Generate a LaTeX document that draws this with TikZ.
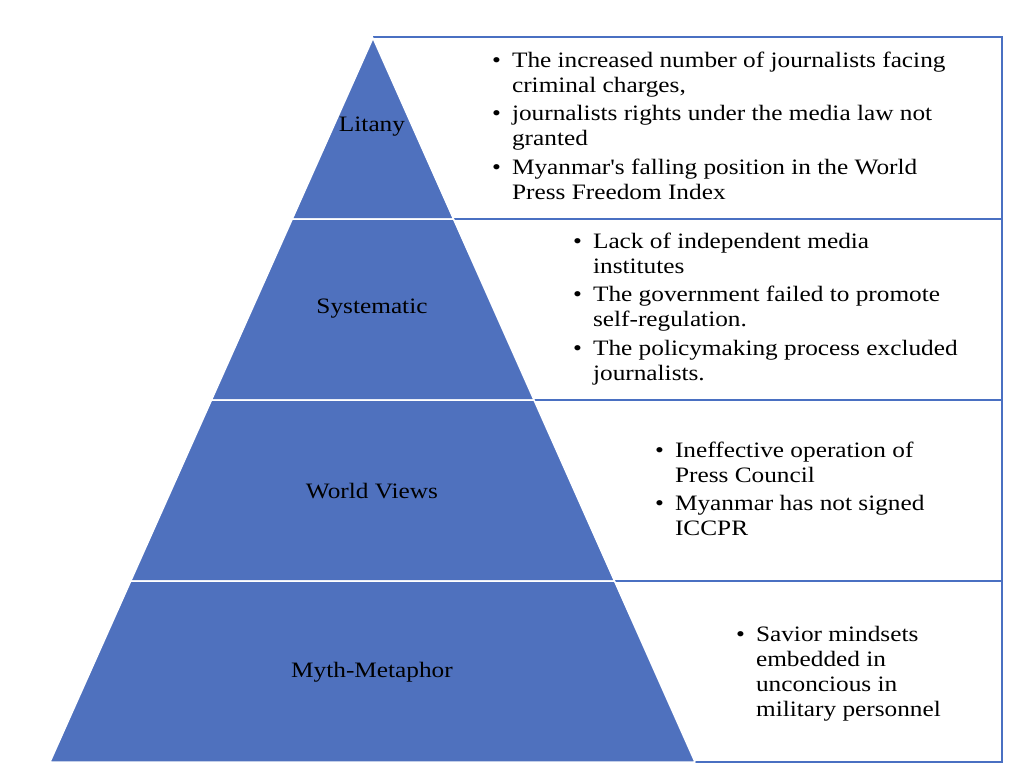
\documentclass[tikz,border=0pt]{standalone}
\usepackage{fontspec}
\setmainfont{Liberation Serif}[FakeStretch=1.15, Ligatures=TeXOff]
\usetikzlibrary{calc}

\definecolor{pyrblue}{HTML}{4F71BE}
\definecolor{boxblue}{HTML}{4A70C2}

\tikzset{
	layer/.style={fill=pyrblue, draw=white, line width=1.5pt, line join=round},
	panel/.style={draw=boxblue, line width=1.3pt},
	lbl/.style={font=\fontsize{22}{25}\selectfont, inner sep=0pt},
	pts/.style={font=\fontsize{22}{25}\selectfont, anchor=base west, inner sep=0pt, align=left}
}

\begin{document}
\begin{tikzpicture}[x=1pt, y=-1pt]
		\useasboundingbox (0,0) rectangle (1024,772);

		\coordinate (apex) at (373,38);
		\coordinate (bl) at (50,762);
		\coordinate (br) at (695,762);
		\coordinate (ne) at (1002,37);
		\coordinate (l1) at ($(apex)!.25!(bl)$);
		\coordinate (r1) at ($(apex)!.25!(br)$);
		\coordinate (l2) at ($(apex)!.5!(bl)$);
		\coordinate (r2) at ($(apex)!.5!(br)$);
		\coordinate (l3) at ($(apex)!.75!(bl)$);
		\coordinate (r3) at ($(apex)!.75!(br)$);

		% boxes on the right
		\draw[panel] (apex |- ne) -- (ne) -- (ne |- br) -- (br);
		\draw[panel] (r1) -- (r1 -| ne);
		\draw[panel] (r2) -- (r2 -| ne);
		\draw[panel] (r3) -- (r3 -| ne);

		% pyramid layers
		\path[layer] (apex) -- (r1) -- (l1) -- cycle;
		\path[layer] (l1) -- (r1) -- (r2) -- (l2) -- cycle;
		\path[layer] (l2) -- (r2) -- (r3) -- (l3) -- cycle;
		\path[layer] (l3) -- (r3) -- (br) -- (bl) -- cycle;

		\node[lbl] (litany) at (372,127) {Litany};
		\node[lbl] (systematic) at (372,309) {Systematic};
		\node[lbl] (worldviews) at (372,491) {World Views};
		\node[lbl] (myth) at (372,672) {Myth-Metaphor};

		\node[pts] (litanypts) at (492,67) {\begin{tabular}[t]{@{}l@{\hspace{11pt}}l@{}}
			\textbullet & The increased number of journalists facing\\
			& criminal charges,\\[3.5pt]
			\textbullet & journalists rights under the media law not\\
			& granted\\[3.5pt]
			\textbullet & Myanmar's falling position in the World\\
			& Press Freedom Index
		\end{tabular}};
		\node[pts] (systematicpts) at (573,248) {\begin{tabular}[t]{@{}l@{\hspace{11pt}}l@{}}
			\textbullet & Lack of independent media\\
			& institutes\\[3.5pt]
			\textbullet & The government failed to promote\\
			& self-regulation.\\[3.5pt]
			\textbullet & The policymaking process excluded\\
			& journalists.
		\end{tabular}};
		\node[pts] (worldviewspts) at (655,457) {\begin{tabular}[t]{@{}l@{\hspace{11pt}}l@{}}
			\textbullet & Ineffective operation of\\
			& Press Council\\[3.5pt]
			\textbullet & Myanmar has not signed\\
			& ICCPR
		\end{tabular}};
		\node[pts] (mythpts) at (736,641) {\begin{tabular}[t]{@{}l@{\hspace{11pt}}l@{}}
			\textbullet & Savior mindsets\\
			& embedded in\\
			& unconcious in\\
			& military personnel
		\end{tabular}};
	\end{tikzpicture}
\end{document}
